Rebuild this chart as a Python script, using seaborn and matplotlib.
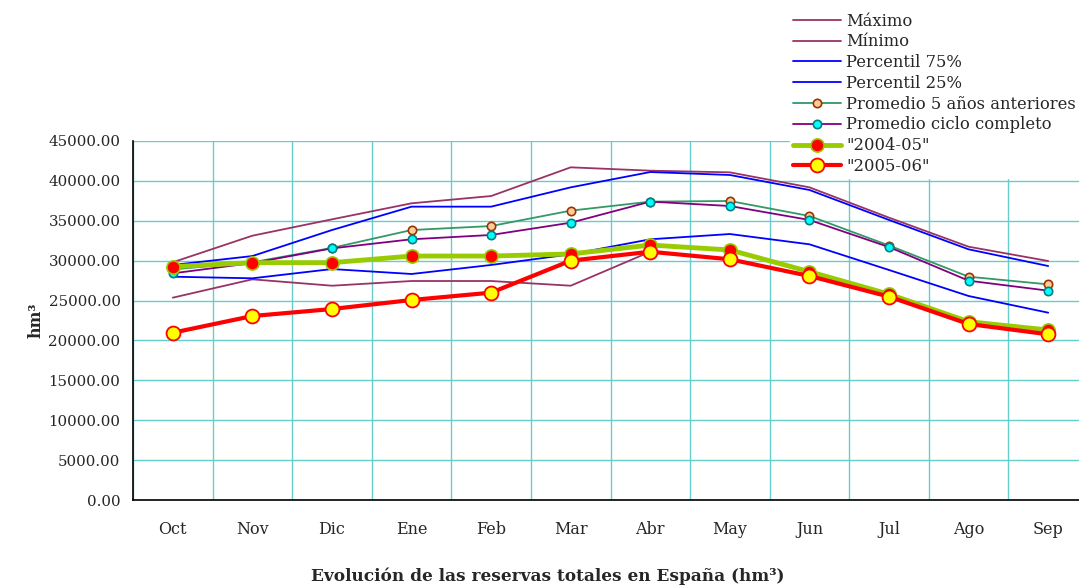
import numpy as np
import pandas as pd
import seaborn as sns
import matplotlib.pyplot as plt
from matplotlib.ticker import FixedLocator, FormatStrFormatter

# data (hm3)
meses = ["Oct", "Nov", "Dic", "Ene", "Feb", "Mar", "Abr", "May", "Jun", "Jul", "Ago", "Sep"]
maximo = [29800, 33130, 35180, 37190, 38100, 41700, 41280, 41070, 39190, 35390, 31750, 29960]
minimo = [25360, 27660, 26860, 27450, 27450, 26860, 31120, 30170, 28080, 25490, 22060, 20770]
p75 = [29460, 30580, 33840, 36770, 36770, 39190, 41110, 40740, 38860, 35100, 31420, 29330]
p25 = [27990, 27790, 28950, 28330, 29460, 30800, 32680, 33340, 32050, 28830, 25570, 23480]
prom5 = [28900, 29800, 31600, 33840, 34340, 36270, 37400, 37480, 35600, 31900, 27990, 27030]
prom_ciclo = [28410, 29700, 31540, 32680, 33220, 34760, 37400, 36850, 35100, 31700, 27490, 26240]
y2004_05 = [29250, 29750, 29750, 30580, 30580, 30840, 31960, 31340, 28620, 25800, 22350, 21310]
y2005_06 = [20970, 23060, 23940, 25070, 25990, 30000, 31120, 30170, 28080, 25490, 22060, 20770]

sns.set_style("white")
plt.rcParams['font.family'] = ['DejaVu Serif']

df = pd.DataFrame({"pos": np.arange(len(meses)), "mes": meses,
                   "Máximo": maximo, "Mínimo": minimo,
                   "Percentil 75%": p75, "Percentil 25%": p25,
                   "Promedio 5 años anteriores": prom5,
                   "Promedio ciclo completo": prom_ciclo,
                   '"2004-05"': y2004_05, '"2005-06"': y2005_06})

fig = plt.figure(figsize=(10.79, 5.85), dpi=100)
ax = fig.add_axes([133 / 1079, 85 / 585, 955 / 1079, 359 / 585])

styles = [
    ("Máximo", dict(color="#993366", lw=1.3)),
    ("Mínimo", dict(color="#993366", lw=1.3)),
    ("Percentil 75%", dict(color="#0000ff", lw=1.3)),
    ("Percentil 25%", dict(color="#0000ff", lw=1.3)),
    ("Promedio 5 años anteriores", dict(color="#339966", lw=1.3, marker="o", markersize=6,
                                        markerfacecolor="#ffcc99", markeredgecolor="#993300", markeredgewidth=1.2)),
    ("Promedio ciclo completo", dict(color="#800080", lw=1.3, marker="o", markersize=6,
                                     markerfacecolor="#00ffff", markeredgecolor="#008080", markeredgewidth=1.2)),
    ('"2004-05"', dict(color="#99cc00", lw=3.5, marker="o", markersize=9.5,
                       markerfacecolor="#ff0000", markeredgecolor="#99cc00", markeredgewidth=1.2)),
    ('"2005-06"', dict(color="#ff0000", lw=3, marker="o", markersize=10,
                       markerfacecolor="#ffff00", markeredgecolor="#ff0000", markeredgewidth=1.3)),
]
for name, kw in styles:
    sns.lineplot(data=df, x="pos", y=name, ax=ax, label=name, **kw)

ax.set_xlim(-0.5, 11.5)
ax.set_ylim(0, 45000)
ax.set_xticks(df["pos"])
ax.set_xticklabels(meses, fontsize=11.5)
ax.xaxis.set_minor_locator(FixedLocator(np.arange(-0.5, 12, 1)))
ax.tick_params(axis="x", which="major", length=0, pad=15)
ax.tick_params(axis="x", which="minor", length=5, width=1, color="black", direction="out")
ax.set_yticks(np.arange(0, 45001, 5000))
ax.yaxis.set_major_formatter(FormatStrFormatter("%.2f"))
ax.tick_params(axis="y", length=5, width=1, color="black", direction="out", labelsize=10.8, pad=4)

ax.grid(False)
ax.grid(True, axis="y", which="major", color="#66cccc", lw=1)
ax.grid(True, axis="x", which="minor", color="#66cccc", lw=1)
ax.set_axisbelow(True)
for s in ["top", "right"]:
    ax.spines[s].set_visible(False)
for s in ["left", "bottom"]:
    ax.spines[s].set_color("black")
    ax.spines[s].set_linewidth(1.2)

ax.set_xlabel("")
ax.set_ylabel("hm³", fontsize=11.5, fontweight="bold", labelpad=3)

handles, labels = ax.get_legend_handles_labels()
ax.get_legend().remove()
fig.legend(handles, labels, loc="upper left", bbox_to_anchor=(782 / 1079, 0.998),
           fontsize=11.8, frameon=True, facecolor="white", edgecolor="white", framealpha=1,
           fancybox=False, handlelength=2.9, handletextpad=0.3, labelspacing=0.23,
           borderpad=0.2, numpoints=1)

fig.text(548 / 1079, 9 / 585, "Evolución de las reservas totales en España (hm³)",
         ha="center", va="center", fontsize=12.2, fontweight="bold")

fig.savefig("out.png", dpi=100)
